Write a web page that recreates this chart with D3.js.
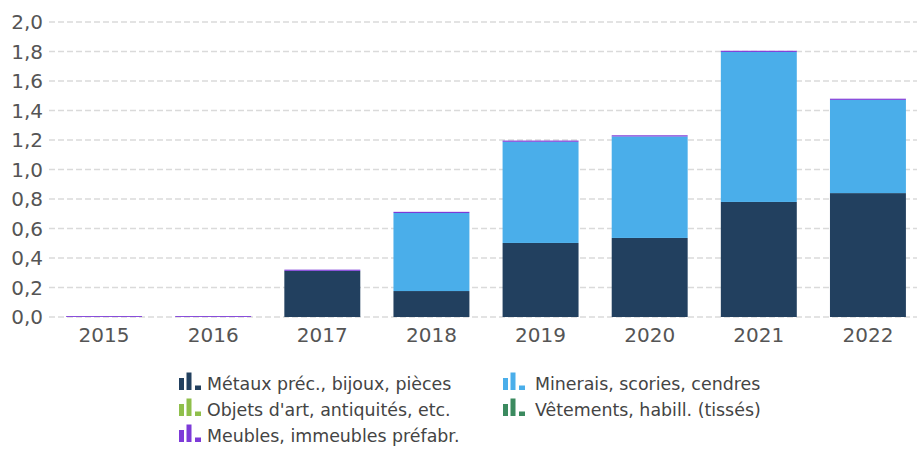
<!DOCTYPE html>
<html>
<head>
<meta charset="utf-8">
<script src="https://cdn.jsdelivr.net/npm/d3@7"></script>
<style>
  html, body { margin: 0; padding: 0; background: #fff; }
  svg { display: block; font-family: "DejaVu Sans", Verdana, sans-serif; }
</style>
</head>
<body>
<svg id="chart" width="917" height="450"></svg>
<script>
const years = ["2015", "2016", "2017", "2018", "2019", "2020", "2021", "2022"];
const metaux    = [0, 0, 0.313, 0.176, 0.502, 0.536, 0.780, 0.840];
const minerais  = [0, 0, 0, 0.529, 0.686, 0.688, 1.017, 0.632];
const objets    = [0, 0, 0, 0, 0, 0, 0, 0];
const vetements = [0, 0, 0, 0, 0, 0, 0, 0];
const meubles   = [0.006, 0.006, 0.008, 0.008, 0.008, 0.008, 0.008, 0.008];
const yTicks = [0, 0.2, 0.4, 0.6, 0.8, 1.0, 1.2, 1.4, 1.6, 1.8, 2.0];

const seriesNames = ["Métaux préc., bijoux, pièces", "Minerais, scories, cendres",
  "Objets d'art, antiquités, etc.", "Vêtements, habill. (tissés)", "Meubles, immeubles préfabr."];
const seriesValues = [metaux, minerais, objets, vetements, meubles];
const colors = ["#22405f", "#4aaeea", "#8fbf4b", "#3b8a5f", "#7d3ad8"];

const svg = d3.select("#chart");
const x = d3.scaleBand().domain(years).range([49.5, 922.5]).paddingInner(0.304).paddingOuter(0.152);
const y = d3.scaleLinear().domain([0, 2]).range([317, 22]);

// gridlines
svg.append("g").selectAll("line").data(yTicks).join("line")
  .attr("x1", 49).attr("x2", 917)
  .attr("y1", d => y(d)).attr("y2", d => y(d))
  .attr("stroke", "#dadada").attr("stroke-width", 1.5).attr("stroke-dasharray", "6,3");

// y axis labels
const yAxis = d3.axisLeft(y).tickValues(yTicks).tickSize(0).tickPadding(0)
  .tickFormat(d => d3.format(".1f")(d).replace(".", ","));
const gy = svg.append("g").attr("transform", "translate(43,0)").call(yAxis);
gy.select(".domain").remove();
gy.selectAll("text").attr("fill", "#555").attr("font-size", "20px")
  .attr("font-family", "'DejaVu Sans', Verdana, sans-serif").attr("dy", "0.33em");

// stacked bars
const table = years.map((yr, i) => {
  const o = { year: yr };
  seriesNames.forEach((n, k) => { o[n] = seriesValues[k][i]; });
  return o;
});
const stack = d3.stack().keys(seriesNames)(table);
svg.append("g").selectAll("g").data(stack).join("g")
  .attr("fill", (d, i) => colors[i])
  .selectAll("rect").data(d => d).join("rect")
  .attr("x", d => x(d.data.year))
  .attr("width", x.bandwidth())
  .attr("y", d => y(d[1]))
  .attr("height", d => Math.max(0, y(d[0]) - y(d[1])));

// x axis labels
const xAxis = d3.axisBottom(x).tickSize(0).tickPadding(0);
const gx = svg.append("g").attr("transform", "translate(0,342)").call(xAxis);
gx.select(".domain").remove();
gx.selectAll("text").attr("fill", "#555").attr("font-size", "20px")
  .attr("font-family", "'DejaVu Sans', Verdana, sans-serif").attr("dy", "0");

// legend
const legendPos = [[179, 390], [503, 390], [179, 416], [503, 416], [179, 442]];
const lg = svg.append("g").selectAll("g").data(seriesNames).join("g")
  .attr("transform", (d, i) => `translate(${legendPos[i][0]},${legendPos[i][1]})`);
lg.each(function(d, i) {
  const g = d3.select(this);
  g.append("rect").attr("x", 0).attr("y", -12).attr("width", 5).attr("height", 12).attr("fill", colors[i]);
  g.append("rect").attr("x", 7.5).attr("y", -17.5).attr("width", 5).attr("height", 17.5).attr("fill", colors[i]);
  g.append("rect").attr("x", 16).attr("y", -4.5).attr("width", 6).attr("height", 4.5).attr("fill", colors[i]);
  g.append("text").attr("x", i % 2 === 0 ? 28 : 32).attr("y", 0)
    .attr("fill", "#444").attr("font-size", "17.4px").text(d);
});
</script>
</body>
</html>
